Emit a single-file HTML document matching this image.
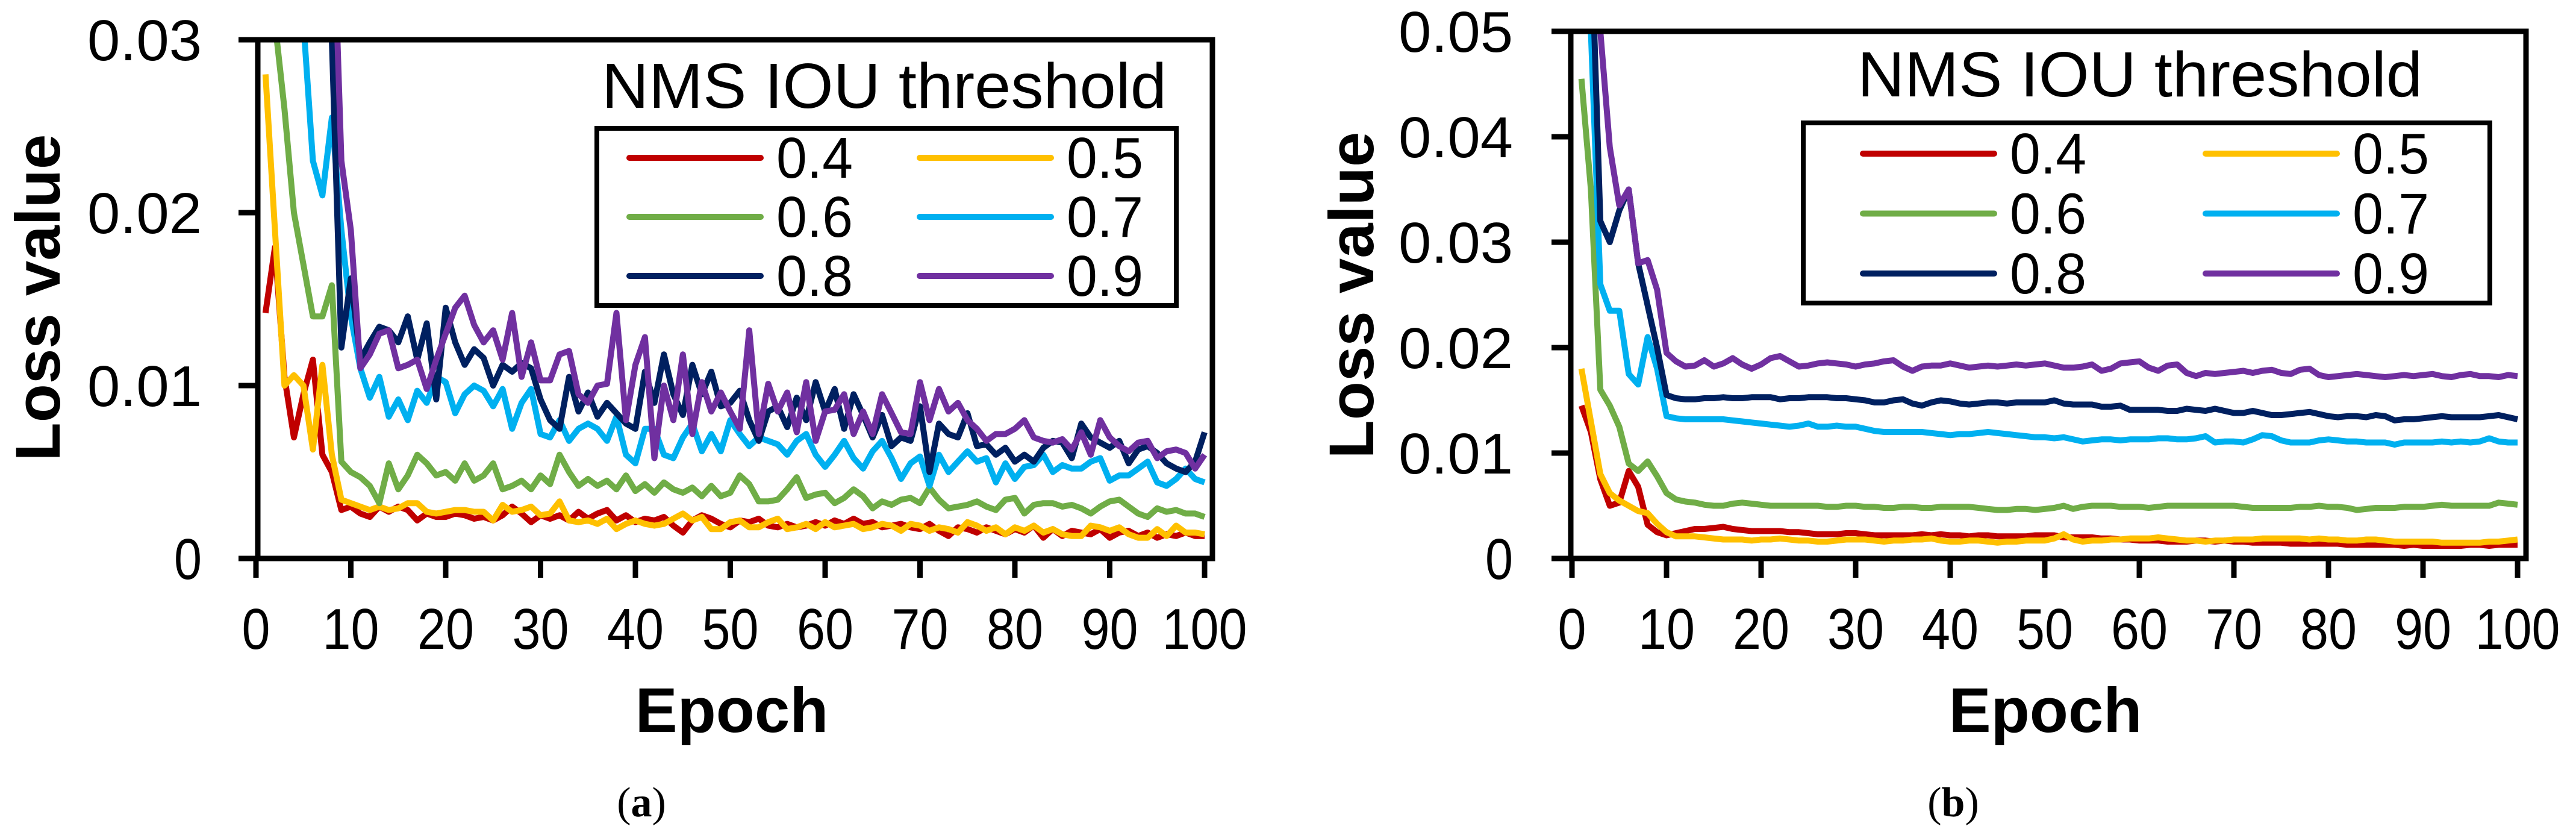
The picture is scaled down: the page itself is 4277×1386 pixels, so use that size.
<!DOCTYPE html>
<html><head><meta charset="utf-8"><style>
html,body{margin:0;padding:0;background:#fff;}
svg{display:block;}
text{font-family:"Liberation Sans",sans-serif;fill:#000;}
</style></head><body>
<svg id="fig" width="4277" height="1386" viewBox="0 0 4277 1386" xmlns="http://www.w3.org/2000/svg">
<defs>
<clipPath id="clipA"><rect x="428" y="64" width="1585" height="864"/></clipPath>
<clipPath id="clipB"><rect x="2609" y="51" width="1586" height="877"/></clipPath>
</defs>
<g id="chartA"></g>
<g id="chartB"></g>
<text x="1065" y="1355" font-size="70" text-anchor="middle" style="font-family:'Liberation Serif',serif">(<tspan font-weight="bold">a</tspan>)</text>
<text x="3243" y="1355" font-size="70" text-anchor="middle" style="font-family:'Liberation Serif',serif">(<tspan font-weight="bold">b</tspan>)</text>
</svg>
<script>
// values in units of 1e-3 loss
const epochs = Array.from({length:100},(_,i)=>i+1);
const seriesNames = ["0.4","0.5","0.6","0.7","0.8","0.9"];
const seriesColors = ["#C00000","#FFC000","#70AD47","#00B0F0","#002060","#7030A0"];

const a04 = [14.2,18.0,10.5,7.0,9.5,11.5,6.0,5.0,2.8,3.0,2.6,2.4,3.0,2.7,3.0,2.8,2.2,2.6,2.4,2.4,2.6,2.5,2.3,2.4,2.2,2.5,3.0,2.6,2.1,2.5,2.3,2.5,2.2,2.7,2.3,2.6,2.8,2.2,2.5,2.1,2.3,2.2,2.4,1.9,1.5,2.2,2.5,2.3,2.0,1.8,2.2,2.1,2.3,1.9,1.8,2.0,1.8,1.9,2.1,1.9,2.2,2.0,2.3,2.0,2.1,1.8,1.9,2.0,1.8,1.7,2.0,1.6,1.3,1.8,1.7,1.5,1.8,1.6,1.4,1.7,1.5,1.9,1.2,1.7,1.3,1.6,1.5,1.4,1.7,1.2,1.5,1.6,1.3,1.5,1.2,1.4,1.3,1.5,1.3,1.3];
const a05 = [28.0,19.0,10.0,10.6,10.0,6.3,11.2,6.0,3.4,3.2,3.0,2.8,3.0,2.8,2.9,3.2,3.2,2.7,2.6,2.7,2.8,2.8,2.7,2.7,2.2,3.1,2.7,2.8,3.0,2.5,2.6,3.3,2.2,2.1,2.2,2.0,2.3,1.7,2.0,2.2,2.0,1.9,2.0,2.3,2.6,2.2,2.4,1.7,1.7,2.1,2.2,1.8,1.8,2.1,2.3,1.7,1.8,2.0,1.7,2.1,1.8,1.9,2.0,1.7,1.8,2.0,1.9,1.6,2.0,1.9,1.6,1.8,1.7,1.5,2.1,1.9,1.6,1.8,1.4,1.8,1.6,1.9,1.5,1.7,1.4,1.3,1.3,1.9,1.8,1.6,1.8,1.4,1.2,1.2,1.7,1.3,1.9,1.5,1.5,1.4];
const a06 = [35,31,26,20,17,14,14,15.8,5.6,5.0,4.7,4.2,3.2,5.5,4.0,4.8,6.0,5.5,4.8,5.0,4.5,5.5,4.5,4.8,5.5,4.0,4.2,4.5,4.0,4.8,4.3,6.0,5.0,4.2,4.6,4.2,4.5,4.0,4.8,3.9,4.3,3.8,4.4,4.0,3.8,4.1,3.6,4.2,3.6,3.8,4.8,4.3,3.3,3.3,3.4,4.0,4.7,3.5,3.7,3.8,3.2,3.5,4.0,3.6,2.9,3.3,3.1,3.4,3.5,3.2,4.1,3.4,2.9,3.0,3.1,3.3,3.0,2.8,3.4,3.5,2.6,3.1,3.2,3.2,3.0,3.1,2.9,2.6,3.0,3.3,3.4,3.0,2.6,2.4,2.9,2.7,2.8,2.6,2.6,2.4];
const a07 = [60,50,42,36,31,23,21,25.5,19,14,11,9.3,10.5,8.2,9.2,8.0,9.7,9.0,10.5,10.2,8.4,9.5,10.0,9.7,8.8,9.8,7.5,9.0,9.8,7.2,7.0,8.0,6.8,7.5,7.8,7.5,6.8,8.2,6.0,5.5,7.5,7.5,6.0,5.8,7.0,7.8,6.2,7.2,6.2,8.0,7.2,6.5,7.0,6.8,6.6,6.0,6.8,7.2,6.0,5.3,6.0,6.8,5.8,5.2,6.2,6.8,5.8,4.6,5.5,5.9,4.2,6.0,5.0,5.6,6.2,5.6,5.8,4.4,5.5,4.6,5.3,5.4,6.0,5.0,5.4,5.2,5.2,5.6,5.8,4.5,4.8,4.8,5.2,5.6,4.4,4.2,4.6,5.2,4.6,4.4];
const a08 = [70,65,60,55,50,45,40,30,12.2,16.2,11.5,12.5,13.4,13.2,12.5,14,11.5,13.6,9.2,14.5,12.5,11.2,12.1,11.6,10,11.2,10.8,11.3,11.0,9.2,8.0,7.5,10.5,8.5,9.6,8.2,9.0,8.4,7.8,7.5,10.8,9.0,11.8,9.5,8.3,11.2,9.5,10.8,8.8,9.0,9.7,8.0,6.8,8.5,8.8,7.6,9.3,8.0,10.2,8.5,9.8,7.5,9.5,8.3,7.0,8.3,6.5,7.0,6.8,8.8,5.0,7.8,7.2,7.0,8.4,6.5,6.6,6.0,6.4,5.6,6.0,5.6,6.4,6.8,6.7,5.8,7.8,7.0,6.7,6.4,6.8,5.5,6.3,6.5,6.1,5.5,5.2,5.0,5.6,7.3];
const a09 = [80,75,70,65,60,55,50,40,23,19,11.0,11.8,13.0,13.2,11.0,11.2,11.5,9.8,11.5,13.0,14.5,15.2,13.5,12.5,13.2,11.5,14.2,10.5,12.5,10.3,10.3,11.8,12.0,9.5,9.0,10.0,10.1,14.2,8.0,11.2,12.8,5.8,10.0,8.0,11.8,7.2,10.2,8.5,9.6,8.5,7.5,13.2,7.2,10.1,8.5,9.6,7.3,10.2,6.8,8.5,8.6,9.5,7.2,8.5,7.2,9.5,8.4,7.3,7.2,10.2,8.0,9.8,8.5,9.0,8.0,7.5,6.8,7.2,7.2,7.5,8.0,7.0,6.8,6.7,6.9,6.3,7.3,6.0,8.0,7.0,6.5,6.2,6.7,6.8,5.8,6.2,6.3,6.1,5.2,6.0];

const b04 = [14.5,12.0,7.5,5.0,5.3,8.3,6.8,3.2,2.5,2.2,2.4,2.6,2.8,2.8,2.9,3.0,2.8,2.7,2.6,2.6,2.6,2.6,2.5,2.5,2.4,2.3,2.3,2.3,2.4,2.4,2.3,2.2,2.2,2.2,2.2,2.2,2.3,2.2,2.3,2.2,2.2,2.1,2.2,2.2,2.1,2.1,2.1,2.1,2.2,2.2,2.2,2.0,2.0,2.0,2.0,1.9,1.9,1.8,1.8,1.7,1.7,1.7,1.6,1.6,1.6,1.7,1.7,1.6,1.7,1.6,1.6,1.5,1.5,1.5,1.5,1.4,1.4,1.4,1.4,1.4,1.4,1.3,1.3,1.3,1.3,1.3,1.3,1.2,1.3,1.2,1.2,1.2,1.2,1.2,1.3,1.3,1.2,1.3,1.3,1.3];
const b05 = [18.0,13.0,8.0,6.2,5.5,5.0,4.5,4.3,3.3,2.5,2.1,2.1,2.1,2.0,1.9,1.8,1.8,1.8,1.7,1.8,1.8,1.9,1.8,1.7,1.7,1.6,1.6,1.7,1.8,1.8,1.8,1.7,1.6,1.7,1.7,1.8,1.8,1.9,1.7,1.6,1.6,1.7,1.7,1.6,1.5,1.6,1.6,1.7,1.7,1.7,1.9,2.3,1.8,1.6,1.7,1.7,1.8,1.8,1.9,1.9,1.9,2.0,1.9,1.8,1.7,1.7,1.6,1.7,1.7,1.8,1.8,1.8,1.9,1.9,1.9,1.9,1.9,1.8,1.9,1.8,1.8,1.7,1.7,1.8,1.8,1.7,1.6,1.6,1.6,1.6,1.6,1.5,1.5,1.5,1.5,1.5,1.6,1.6,1.7,1.8];
const b06 = [45.5,35.0,16.0,14.5,12.5,9.0,8.3,9.2,7.8,6.2,5.6,5.4,5.3,5.1,5.0,5.0,5.2,5.3,5.2,5.1,5.0,5.0,5.0,5.0,5.0,5.0,4.9,4.9,5.0,5.0,4.9,4.9,4.8,4.8,4.9,4.9,4.8,4.8,4.9,4.9,4.9,4.9,4.8,4.7,4.6,4.6,4.7,4.7,4.6,4.7,4.8,5.0,4.7,4.9,5.0,5.0,5.0,4.9,4.9,4.9,4.8,4.9,5.0,5.0,5.0,5.0,5.0,5.0,5.0,5.0,4.9,4.8,4.8,4.8,4.8,4.8,4.9,4.9,5.0,4.9,4.9,4.8,4.6,4.7,4.8,4.8,4.8,4.9,4.9,4.9,5.0,5.1,5.0,5.0,5.0,5.0,5.0,5.3,5.2,5.1];
const b07 = [60,50,26,23.5,23.5,17.5,16.5,21,18,13.5,13.3,13.2,13.2,13.2,13.2,13.2,13.1,13.0,12.9,12.8,12.7,12.6,12.5,12.6,12.8,12.5,12.5,12.6,12.5,12.5,12.3,12.1,12.0,12.0,12.0,12.0,12.0,11.9,11.8,11.7,11.8,11.8,11.9,12.0,11.9,11.8,11.7,11.6,11.5,11.5,11.4,11.5,11.3,11.1,11.2,11.3,11.3,11.2,11.3,11.3,11.3,11.4,11.4,11.3,11.3,11.4,11.6,11.0,11.1,11.1,11.0,11.3,11.7,11.6,11.2,11.0,11.0,11.0,11.2,11.3,11.2,11.1,11.1,11.0,11.0,11.0,10.8,11.0,11.0,11.0,11.0,11.1,11.0,11.1,11.0,11.1,11.4,11.1,11.0,11.0];
const b08 = [70,60,32,30,33,35,28,24,20,15.5,15.2,15.1,15.1,15.2,15.2,15.3,15.2,15.2,15.3,15.3,15.3,15.1,15.2,15.2,15.3,15.3,15.3,15.2,15.2,15.1,15.0,14.8,14.8,15.0,15.1,14.7,14.5,14.8,15.0,14.9,14.7,14.6,14.7,14.8,14.8,14.7,14.8,14.8,14.8,14.8,15.0,14.7,14.6,14.6,14.6,14.4,14.4,14.5,14.1,14.1,14.1,14.1,14.0,14.0,14.2,14.1,14.0,14.2,14.0,13.8,13.8,14.0,13.8,13.6,13.6,13.7,13.8,13.9,13.7,13.5,13.4,13.5,13.5,13.4,13.6,13.5,13.1,13.2,13.2,13.3,13.4,13.5,13.4,13.4,13.4,13.4,13.5,13.6,13.4,13.2];
const b09 = [70,65,50,39,33.5,35,28,28.3,25.5,19.5,18.7,18.2,18.3,18.8,18.2,18.5,19.0,18.4,18.0,18.4,19.0,19.2,18.7,18.2,18.3,18.5,18.6,18.5,18.4,18.2,18.4,18.5,18.7,18.8,18.2,17.8,18.2,18.3,18.3,18.5,18.3,18.1,18.2,18.3,18.2,18.3,18.4,18.3,18.4,18.5,18.3,18.1,18.1,18.2,18.4,17.8,18.0,18.5,18.6,18.7,18.1,17.8,18.3,18.4,17.6,17.3,17.6,17.5,17.6,17.7,17.8,17.6,17.8,17.9,17.6,17.5,17.9,18.0,17.4,17.2,17.3,17.4,17.5,17.4,17.3,17.2,17.3,17.4,17.3,17.4,17.5,17.3,17.2,17.4,17.5,17.3,17.3,17.2,17.4,17.3];

const xTicks = [0,10,20,30,40,50,60,70,80,90,100];
const yTicksA = [0,0.01,0.02,0.03];
const yTickLabelsA = ["0","0.01","0.02","0.03"];
const yTicksB = [0,0.01,0.02,0.03,0.04,0.05];
const yTickLabelsB = ["0","0.01","0.02","0.03","0.04","0.05"];

const NS="http://www.w3.org/2000/svg";
function mk(parent,tag,attrs,txt){const e=document.createElementNS(NS,tag);for(const k in attrs)e.setAttribute(k,attrs[k]);if(txt!==undefined)e.textContent=txt;parent.appendChild(e);return e;}

function drawChart(g,cfg){
  const X=v=>cfg.x0+(v-0)*(cfg.x100-cfg.x0)/100;
  const Y=v=>cfg.yb-(v/cfg.ymax)*(cfg.yb-cfg.yt);
  const sg=mk(g,"g",{"clip-path":"url(#"+cfg.clip+")"});
  
  
  cfg.series.forEach((arr,si)=>{
    const pts=arr.map((v,i)=>X(epochs[i]).toFixed(1)+","+Y(v/1000).toFixed(1)).join(" ");
    const pl=mk(sg,"polyline",{points:pts,fill:"none",stroke:seriesColors[si],"stroke-width":10,"stroke-linejoin":"round"});
    
    
  });
  const fr=mk(g,"rect",{x:cfg.fl,y:cfg.yt,width:cfg.fr-cfg.fl,height:cfg.yb-cfg.yt,fill:"none",stroke:"#000","stroke-width":9});
  
  
  cfg.yTicks.forEach((t,i)=>{
    const tk=mk(g,"line",{x1:cfg.fl-32,x2:cfg.fl,y1:Y(t),y2:Y(t),stroke:"#000","stroke-width":9});
    
    
    const lab=cfg.yLabels[i];
    const tl=mk(g,"text",{x:cfg.ylabR,y:Y(t)+34,"font-size":96,"text-anchor":"end",textLength:lab.length===1?46:190,lengthAdjust:"spacingAndGlyphs"},lab);
    
    
  });
  xTicks.forEach(t=>{
    const tk=mk(g,"line",{x1:X(t),x2:X(t),y1:cfg.yb,y2:cfg.yb+32,stroke:"#000","stroke-width":9});
    
    
    const s=String(t);
    const tl=mk(g,"text",{x:X(t),y:1077,"font-size":96,"text-anchor":"middle",textLength:s.length*47,lengthAdjust:"spacingAndGlyphs"},s);
    
    
  });
  const xt=mk(g,"text",{x:cfg.epochX,y:1215,"font-size":105,"font-weight":"bold","text-anchor":"middle"},"Epoch");
  
  
  const yt=mk(g,"text",{x:0,y:0,"font-size":105,"font-weight":"bold","text-anchor":"middle",transform:"translate("+(cfg.lossX+38)+","+cfg.lossY+") rotate(-90)"},"Loss value");
  
  
  const lg=mk(g,"g",{});
  
  
  const title=mk(lg,"text",{x:cfg.lgTitleX,y:cfg.lgTitleY,"font-size":106,"text-anchor":"middle",textLength:938,lengthAdjust:"spacingAndGlyphs"},"NMS IOU threshold");
  
  
  const box=mk(lg,"rect",{x:cfg.lb.x,y:cfg.lb.y,width:cfg.lb.w,height:cfg.lb.h,fill:"#fff",stroke:"#000","stroke-width":8});
  
  
  seriesNames.forEach((n,i)=>{
    const col=i%2,row=Math.floor(i/2);
    const lx=cfg.lb.x+cfg.lineOff+col*(cfg.colOff);
    const ly=cfg.lb.y+cfg.rowOff+row*cfg.rowGap;
    const ent=mk(lg,"g",{});
    
    
    mk(ent,"line",{x1:lx,x2:lx+218,y1:ly,y2:ly,stroke:seriesColors[i],"stroke-width":10,"stroke-linecap":"round"});
    mk(ent,"text",{x:lx+244,y:ly+33,"font-size":96,textLength:127,lengthAdjust:"spacingAndGlyphs"},n);
  });
}

drawChart(document.getElementById("chartA"),{
  x0:425,x100:2000,fl:428,fr:2013,yt:66,yb:927,ymax:0.03,clip:"clipA",
  series:[a04,a05,a06,a07,a08,a09],yTicks:yTicksA,yLabels:yTickLabelsA,ylabR:335,
  epochX:1215,lossX:61,lossY:494,lgTitleX:1468,lgTitleY:179,
  lb:{x:991,y:213,w:962,h:294},colOff:482,lineOff:54,rowOff:49,rowGap:98
});
drawChart(document.getElementById("chartB"),{
  x0:2610,x100:4180,fl:2608,fr:4194,yt:52,yb:927,ymax:0.05,clip:"clipB",
  series:[b04,b05,b06,b07,b08,b09],yTicks:yTicksB,yLabels:yTickLabelsB,ylabR:2512,
  epochX:3396,lossX:2242,lossY:490,lgTitleX:3553,lgTitleY:160,
  lb:{x:2994,y:204,w:1140,h:299},colOff:569,lineOff:99,rowOff:51,rowGap:99.5
});
</script>
</body></html>
